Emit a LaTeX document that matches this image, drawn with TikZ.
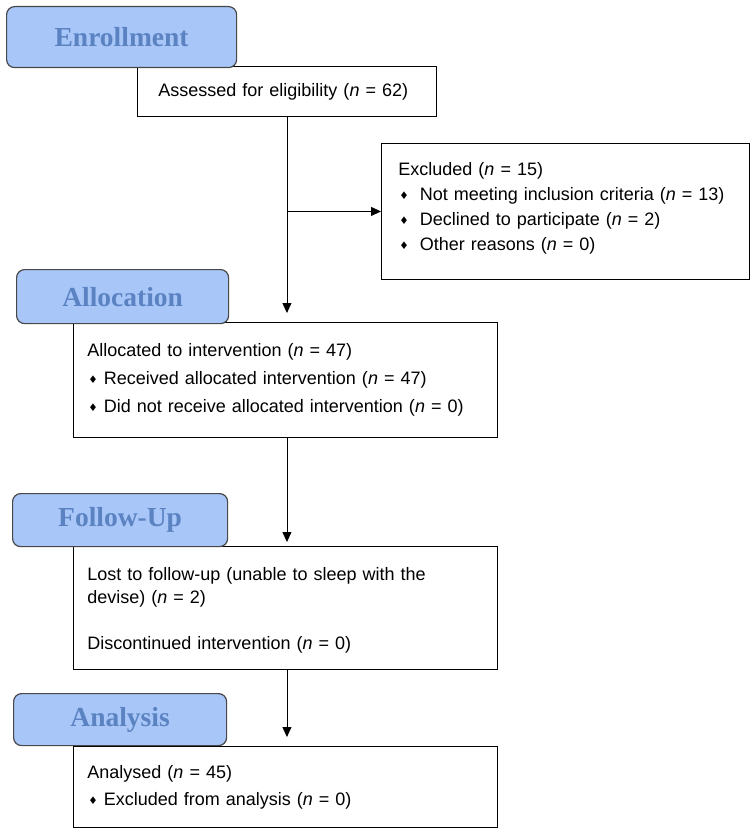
\documentclass[tikz,border=0pt]{standalone}
\usepackage{fontspec}
\setmainfont{Liberation Sans}
\newfontfamily\phasefont{Liberation Serif}
\newfontfamily\symbolfont{DejaVu Sans}
\usetikzlibrary{arrows.meta}

\definecolor{phasefill}{HTML}{A8C6F8}
\definecolor{phasetext}{HTML}{5B83C2}
\definecolor{phaseline}{HTML}{474747}

% small diamond bullet
\newcommand{\dia}[1][6pt]{\hspace*{1pt}{\symbolfont\fontsize{10.5}{10}\selectfont\raisebox{0.15ex}{♦}}\hspace{#1}}
\newcommand{\nn}{\textit{n}}
% extra room below the last line
\newcommand{\tail}[1]{\par\vspace{#1}\nointerlineskip\hbox{}}

\begin{document}
\begin{tikzpicture}[x=1pt,y=-1pt,
  phase/.style={draw=phaseline, line width=1.2pt, fill=phasefill, rounded corners=8pt,
    anchor=north west, inner sep=0pt, text=phasetext,
    font=\phasefont\bfseries\fontsize{27.5}{30}\selectfont},
  infobox/.style={draw, line width=0.9pt, anchor=north west, inner ysep=0pt,
    align=left, font=\fontsize{18}{25}\selectfont},
  flow/.style={line width=0.9pt, -{Triangle[length=10pt,width=9pt]}}]
  \useasboundingbox (0,0) rectangle (753,834);

  % Boxes
  \node[infobox, inner xsep=21pt, text width=257pt, minimum height=50pt]
    (assess) at (137,66) {Assessed for eligibility (\nn{} = 62)};
  \node[infobox, inner xsep=17pt, text width=334pt, minimum height=136pt]
    (excl) at (381,143) {Excluded (\nn{} = 15)\\
      \dia[11pt]Not meeting inclusion criteria (\nn{} = 13)\\
      \dia[11pt]Declined to participate (\nn{} = 2)\\
      \dia[11pt]Other reasons (\nn{} = 0)\tail{7pt}};
  \node[infobox, inner xsep=14pt, text width=396pt, minimum height=115pt,
    font=\fontsize{18}{28}\selectfont]
    (alloc) at (73,322) {Allocated to intervention (\nn{} = 47)\\
      \dia Received allocated intervention (\nn{} = 47)\\
      \dia Did not receive allocated intervention (\nn{} = 0)};
  \node[infobox, inner xsep=14pt, text width=396pt, minimum height=123pt,
    font=\fontsize{18}{23}\selectfont]
    (lost) at (73,546) {Lost to follow-up (unable to sleep with the\\
      devise) (\nn{} = 2)\\[23pt]
      Discontinued intervention (\nn{} = 0)\tail{-5pt}};
  \node[infobox, inner xsep=14pt, text width=396pt, minimum height=81pt,
    font=\fontsize{18}{27}\selectfont]
    (anal) at (73,746) {Analysed (\nn{} = 45)\\
      \dia Excluded from analysis (\nn{} = 0)};

  % Phases
  \node[phase, minimum width=230pt, minimum height=61pt] (enrolment) at (6,6) {Enrollment};
  \node[phase, minimum width=212pt, minimum height=54pt] (allocation) at (16,269) {Allocation};
  \node[phase, minimum width=215pt, minimum height=53pt] (followup) at (12,493) {Follow-Up};
  \node[phase, minimum width=213pt, minimum height=52pt] (analysis) at (13,693) {Analysis};

  % Connectors
  \coordinate (branch) at (assess.south |- excl.west);
  \draw[flow, shorten >=9pt] (assess.south) -- (assess.south |- alloc.north);
  \draw[flow] (branch) -- (excl.west);
  \draw[flow, shorten >=4pt] (assess.south |- alloc.south) -- (assess.south |- lost.north);
  \draw[flow, shorten >=9pt] (assess.south |- lost.south) -- (assess.south |- anal.north);
\end{tikzpicture}
\end{document}
